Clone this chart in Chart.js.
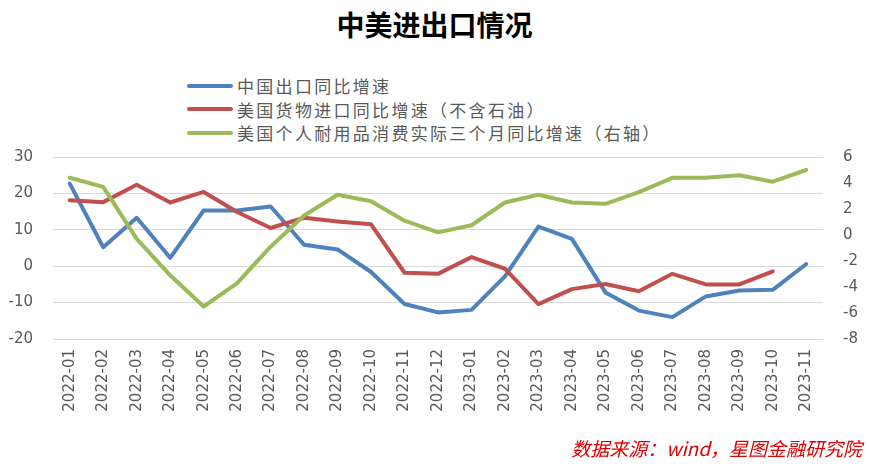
<!DOCTYPE html>
<html>
<head>
<meta charset="utf-8">
<script src="https://cdn.jsdelivr.net/npm/chart.js@4.4.1/dist/chart.umd.min.js"></script>
<style>
body { margin: 0; background: #fff; width: 869px; height: 469px; overflow: hidden; position: relative; font-family: "Noto Sans CJK SC", sans-serif; }
#chart { position: absolute; left: 0; top: 0; }
#title { position: absolute; left: 0; width: 869px; top: 5px; text-align: center; font-size: 28px; font-weight: bold; color: #000; line-height: 38px; }
#legend { position: absolute; left: 187px; top: 74px; }
.item { height: 23.5px; display: flex; align-items: center; font-size: 17px; letter-spacing: 2.3px; color: #595959; white-space: nowrap; }
.item .ln { display: inline-block; width: 46px; height: 4px; border-radius: 2px; margin-right: 4px; }
#source { position: absolute; right: 7px; top: 434px; color: #e00000; font-size: 19px; font-style: italic; white-space: nowrap; }
</style>
</head>
<body>
<div id="title">中美进出口情况</div>
<div id="legend"></div>
<canvas id="chart" width="869" height="469"></canvas>
<div id="source">数据来源：wind，星图金融研究院</div>
<script>
const months = ['2022-01', '2022-02', '2022-03', '2022-04', '2022-05', '2022-06', '2022-07', '2022-08',
    '2022-09', '2022-10', '2022-11', '2022-12', '2023-01', '2023-02', '2023-03', '2023-04',
    '2023-05', '2023-06', '2023-07', '2023-08', '2023-09', '2023-10', '2023-11'];

// 左轴
const chinaExport = [22.7, 5.2, 13.3, 2.3, 15.3, 15.3, 16.4, 5.9, 4.6, -1.6, -10.4, -12.7,
    -12.0, -2.8, 10.9, 7.5, -7.2, -12.2, -14.0, -8.3, -6.7, -6.5, 0.6];
const usImport = [18.1, 17.6, 22.4, 17.5, 20.4, 14.9, 10.5, 13.3, 12.3, 11.5, -1.8, -2.1,
    2.5, -0.7, -10.4, -6.3, -4.9, -6.9, -2.1, -5.0, -5.0, -1.4, null];
// 右轴
const usDurable = [4.4, 3.7, -0.3, -3.1, -5.5, -3.7, -0.9, 1.5, 3.1, 2.6, 1.1, 0.2,
    0.75, 2.5, 3.1, 2.5, 2.4, 3.3, 4.4, 4.4, 4.6, 4.1, 5.0];

const seriesNames = ['中国出口同比增速', '美国货物进口同比增速（不含石油）', '美国个人耐用品消费实际三个月同比增速（右轴）'];
const seriesColors = ['#4f81bd', '#c0504d', '#9bbb59'];

const tickFont = { family: 'DejaVu Sans', size: 15 };
const tickColor = '#595959';

const legend = document.getElementById('legend');
seriesNames.forEach((name, i) => {
    const div = document.createElement('div');
    div.className = 'item';
    div.innerHTML = `<span class="ln" style="background:${seriesColors[i]}"></span>${name}`;
    legend.appendChild(div);
});

new Chart(document.getElementById('chart'), {
    type: 'line',
    data: {
        labels: months,
        datasets: [
            { label: seriesNames[0], data: chinaExport, borderColor: seriesColors[0], yAxisID: 'y', order: 3 },
            { label: seriesNames[1], data: usImport, borderColor: seriesColors[1], yAxisID: 'y', order: 2 },
            { label: seriesNames[2], data: usDurable, borderColor: seriesColors[2], yAxisID: 'y2', order: 1 }
        ]
    },
    options: {
        responsive: false,
        animation: false,
        layout: { padding: { top: 157, left: 0, right: 0, bottom: 0 } },
        elements: {
            line: { borderWidth: 4, tension: 0, borderCapStyle: 'round', borderJoinStyle: 'round' },
            point: { radius: 0 }
        },
        plugins: { legend: { display: false }, tooltip: { enabled: false } },
        scales: {
            x: {
                offset: true,
                grid: { display: false, drawTicks: false },
                border: { display: false },
                ticks: { font: tickFont, color: tickColor, minRotation: 90, maxRotation: 90, padding: 10, autoSkip: false },
                afterFit: s => { s.height = 130; }
            },
            y: {
                position: 'left',
                min: -20, max: 30,
                grid: { color: '#d9d9d9', lineWidth: 1, drawTicks: false },
                border: { display: false },
                ticks: { stepSize: 10, font: tickFont, color: tickColor, padding: 20 },
                afterFit: s => { s.width = 53; }
            },
            y2: {
                position: 'right',
                min: -8, max: 6,
                grid: { display: false, drawTicks: false },
                border: { display: false },
                ticks: { stepSize: 2, font: tickFont, color: tickColor, padding: 20 },
                afterFit: s => { s.width = 46; }
            }
        }
    }
});
</script>
</body>
</html>
